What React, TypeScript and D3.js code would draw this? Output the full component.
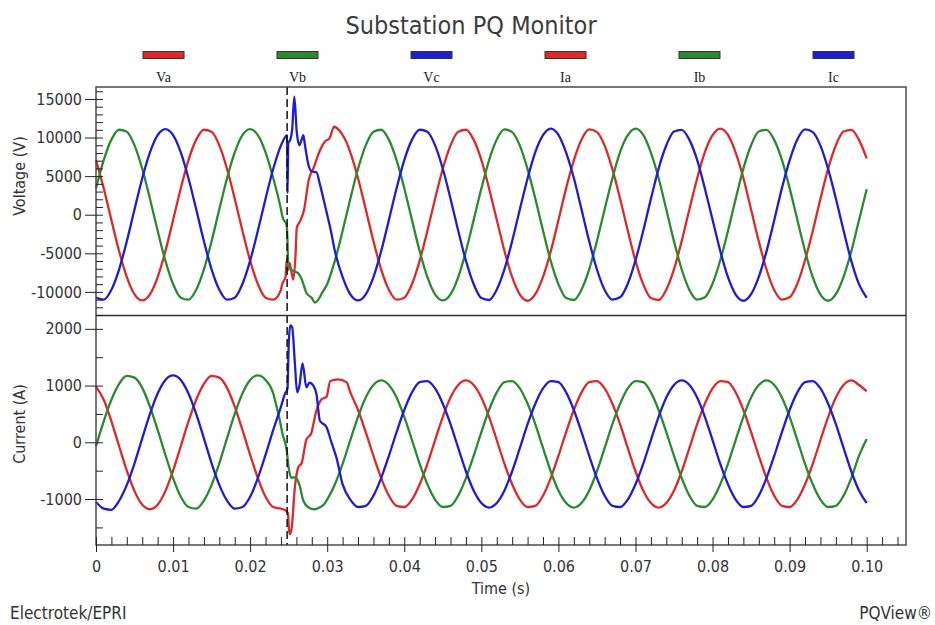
import { useEffect, useRef } from 'react';
import * as d3 from 'd3';

// one reading per millisecond, 0 .. 100 ms
const SAMPLE_MS = 1;

const vaSteady = [
  7080, 3430, -700, -4730, -8090, -10320, -11100, -10320, -8090, -4730,
  -700, 3430, 7080, 9730, 11010, 10750, 8980, 5950, 2080, -2080,
  -5950, -8980, -10750, -11010, -9730, -7080, -3430, 700, 4730, 8090,
  10320, 11100, 10320, 8090, 4730, 700, -3430, -7080, -9730, -11010,
  -10750, -8980, -5950, -2080, 2080, 5950, 8980, 10750, 11010, 9730,
  7100, 3400, -650, -4700, -8100, -10350, -11150, -10300, -8050, -4750,
  -720, 3450, 7050, 9750, 11050, 10700, 8950, 5900, 2100, -2050,
  -5980, -9000, -10800, -11050, -9700, -7050, -3400, 720, 4700, 8100,
  10300, 11150, 10350, 8050, 4750, 680, -3450, -7100, -9750, -11000,
  -10700, -8950, -5900, -2100, 2050, 5980, 9000, 10780, 11000, 9700,
  7300,
];

const vbSteady = [
  3430, 7080, 9730, 11010, 10750, 8980, 5950, 2080, -2080, -5950,
  -8980, -10750, -11010, -9730, -7080, -3430, 700, 4730, 8090, 10320,
  11100, 10320, 8090, 4730, 700, -3430, -7080, -9730, -11010, -10750,
  -8980, -5950, -2080, 2080, 5950, 8980, 10750, 11010, 9730, 7080,
  3430, -700, -4730, -8090, -10320, -11100, -10320, -8090, -4730, -700,
  3400, 7050, 9750, 11050, 10700, 8950, 5900, 2100, -2050, -5980,
  -9000, -10800, -11050, -9700, -7050, -3400, 720, 4700, 8100, 10300,
  11150, 10350, 8050, 4750, 680, -3450, -7100, -9750, -11000, -10700,
  -8950, -5900, -2100, 2050, 5980, 9000, 10780, 11000, 9700, 7100,
  3450, -650, -4700, -8100, -10350, -11150, -10300, -8050, -4750, -720,
  3300,
];

const vcSteady = [
  -10750, -11010, -9730, -7080, -3430, 700, 4730, 8090, 10320, 11100,
  10320, 8090, 4730, 700, -3430, -7080, -9730, -11010, -10750, -8980,
  -5950, -2080, 2080, 5950, 8980, 10750, 11010, 9730, 7080, 3430,
  -700, -4730, -8090, -10320, -11100, -10320, -8090, -4730, -700, 3430,
  7080, 9730, 11010, 10750, 8980, 5950, 2080, -2080, -5950, -8980,
  -10800, -11050, -9700, -7050, -3400, 720, 4700, 8100, 10300, 11150,
  10350, 8050, 4750, 680, -3450, -7100, -9750, -11000, -10700, -8950,
  -5900, -2100, 2050, 5980, 9000, 10780, 11000, 9700, 7100, 3400,
  -650, -4700, -8100, -10350, -11150, -10300, -8050, -4750, -720, 3450,
  7050, 9750, 11050, 10700, 8950, 5900, 2100, -2050, -5980, -9000,
  -10770,
];

const iaSteady = [
  980, 750, 370, -70, -500, -860, -1100, -1180, -1100, -860,
  -500, -70, 370, 750, 1030, 1170, 1140, 960, 630, 220,
  -220, -630, -960, -1140, -1170, -850, -510, -100, 320, 680,
  950, 1080, 1060, 880, 570, 180, -240, -630, -940, -1120,
  -1140, -1010, -740, -380, 40, 450, 790, 1010, 1090, 1010,
  790, 450, 40, -380, -740, -1010, -1140, -1120, -940, -630,
  -240, 180, 570, 880, 1060, 1080, 950, 680, 320, -100,
  -510, -850, -1070, -1150, -1070, -850, -510, -100, 320, 680,
  950, 1080, 1060, 880, 570, 180, -240, -630, -940, -1120,
  -1140, -1010, -740, -380, 40, 450, 790, 1010, 1090, 1010,
  900,
];

const ibSteady = [
  -70, 370, 750, 1030, 1170, 1140, 960, 630, 220, -220,
  -630, -960, -1140, -1170, -1030, -750, -370, 70, 500, 860,
  1100, 1180, 1100, 860, 500, -240, -630, -940, -1120, -1140,
  -1010, -740, -380, 40, 450, 790, 1010, 1090, 1010, 790,
  450, 40, -380, -740, -1010, -1140, -1120, -940, -630, -240,
  180, 570, 880, 1060, 1080, 950, 680, 320, -100, -510,
  -850, -1070, -1150, -1070, -850, -510, -100, 320, 680, 950,
  1080, 1060, 880, 570, 180, -240, -630, -940, -1120, -1140,
  -1010, -740, -380, 40, 450, 790, 1010, 1090, 1010, 790,
  450, 40, -380, -740, -1010, -1140, -1120, -940, -630, -240,
  60,
];

const icSteady = [
  -1050, -1170, -1190, -1030, -750, -370, 70, 500, 860, 1100,
  1180, 1100, 860, 500, 70, -370, -750, -1030, -1170, -1140,
  -960, -630, -220, 220, 630, 1010, 1090, 1010, 790, 450,
  40, -380, -740, -1010, -1140, -1120, -940, -630, -240, 180,
  570, 880, 1060, 1080, 950, 680, 320, -100, -510, -850,
  -1070, -1150, -1070, -850, -510, -100, 320, 680, 950, 1080,
  1060, 880, 570, 180, -240, -630, -940, -1120, -1140, -1010,
  -740, -380, 40, 450, 790, 1010, 1090, 1010, 790, 450,
  40, -380, -740, -1010, -1140, -1120, -940, -630, -240, 180,
  570, 880, 1060, 1080, 950, 680, 320, -100, -510, -850,
  -1070,
];

// finer readings around the fault (time in ms)
const vaFaultMs = [24.1, 24.6, 24.75, 24.9, 25.1, 25.4, 25.6, 25.9, 26.05, 26.5, 27.0, 27.6, 28.2, 29.0, 29.7, 30.3, 30.9, 31.5, 32.2];
const vaFault = [-9200, -8000, -5800, -7200, -6200, -7600, -8400, -5000, -1700, -800, 650, 4500, 6000, 8200, 9500, 9900, 11400, 11000, 10000];

const vbFaultMs = [24.2, 24.75, 24.85, 24.95, 25.2, 25.6, 26.25, 26.7, 27.3, 28.0, 28.4, 28.85, 29.3];
const vbFault = [-300, -1400, -3500, -6700, -7000, -7300, -7600, -8400, -10100, -10800, -11400, -11000, -10200];

const vcFaultMs = [24.5, 24.8, 24.85, 24.95, 25.2, 25.45, 25.73, 26.04, 26.38, 26.7, 26.9, 27.1, 27.55, 28.0, 28.6, 29.06, 29.9, 30.5];
const vcFault = [10000, 10300, 2800, 9300, 9700, 11000, 15300, 10800, 9000, 9800, 10300, 9100, 6500, 5600, 5500, 3900, 400, -2200];

const iaFaultMs = [24.6, 24.9, 25.05, 25.2, 25.4, 25.8, 26.25, 26.7, 27.3, 27.9, 28.6, 29.3, 29.9, 30.4, 31.4, 32.5];
const iaFault = [-1200, -1250, -1550, -1620, -1500, -800, -440, -360, 50, 150, 560, 760, 800, 1080, 1110, 1060];

const ibFaultMs = [23.3, 23.7, 24.2, 24.75, 25.0, 25.3, 25.8, 26.4, 26.9, 27.6, 28.3, 29.0, 29.6];
const ibFault = [700, 480, 150, -150, -450, -620, -620, -750, -1030, -1150, -1180, -1150, -1090];

const icFaultMs = [24.5, 24.85, 25.0, 25.2, 25.45, 25.8, 26.1, 26.4, 26.8, 27.3, 27.7, 28.2, 28.6, 29.05, 29.9, 30.5, 31.2];
const icFault = [850, 950, 1700, 2060, 2030, 1400, 880, 1000, 1390, 970, 1050, 1000, 850, 380, 270, 20, -270];

const seriesNames = ['Va', 'Vb', 'Vc', 'Ia', 'Ib', 'Ic'];
const seriesColors = ['#dc2a2a', '#2b8a30', '#1e1ecf', '#dc2a2a', '#2b8a30', '#1e1ecf'];

const voltTicks = [-10000, -5000, 0, 5000, 10000, 15000];
const currentTicks = [-1000, 0, 1000, 2000];
const timeTicks = [0, 0.01, 0.02, 0.03, 0.04, 0.05, 0.06, 0.07, 0.08, 0.09, 0.1];
const timeLabels = ['0', '0.01', '0.02', '0.03', '0.04', '0.05', '0.06', '0.07', '0.08', '0.09', '0.10'];
const TRIGGER_S = 0.0248;

const FONT = '"DejaVu Sans Condensed", "DejaVu Sans", sans-serif';

function mergeTrace(steady, faultMs, fault) {
  const lo = faultMs[0];
  const hi = faultMs[faultMs.length - 1];
  const points = [];
  steady.forEach((v, i) => {
    const ms = i * SAMPLE_MS;
    if (ms < lo || ms > hi) points.push([ms / 1000, v]);
  });
  faultMs.forEach((ms, i) => points.push([ms / 1000, fault[i]]));
  return points.sort((a, b) => a[0] - b[0]);
}

function styleText(sel, size = 16) {
  sel.attr('font-family', FONT).attr('font-size', size).attr('fill', '#333');
}

// plain hyphen for negatives, like the original software
const plain = (value) => String(value);

export default function App() {
  const ref = useRef(null);

  useEffect(() => {
    const svg = d3.select(ref.current);
    svg.selectAll('*').remove();

    const left = 96;
    const right = 906;
    const top = 87;
    const mid = 315.5;
    const bottom = 545;

    const x = d3.scaleLinear().domain([0, 0.1051]).range([left, right]);
    const yV = d3.scaleLinear().domain([-13060, 16550]).range([mid, top]);
    const yI = d3.scaleLinear().domain([-1810, 2235]).range([bottom, mid]);

    svg.append('rect').attr('width', 935).attr('height', 625).attr('fill', '#fff');

    svg
      .append('text')
      .attr('x', 471)
      .attr('y', 34)
      .attr('text-anchor', 'middle')
      .text('Substation PQ Monitor')
      .call((t) => styleText(t, 25))
      .attr('fill', '#3c3c3c');

    // legend
    const lx = d3.scalePoint().domain(seriesNames).range([163.5, 833.5]);
    const legend = svg
      .append('g')
      .selectAll('g')
      .data(seriesNames)
      .join('g')
      .attr('transform', (d) => `translate(${lx(d)},0)`);
    legend
      .append('rect')
      .attr('x', -20.5)
      .attr('y', 51.5)
      .attr('width', 41)
      .attr('height', 7)
      .attr('fill', (d, i) => seriesColors[i])
      .attr('stroke', '#333')
      .attr('stroke-width', 1);
    legend
      .append('text')
      .attr('y', 82)
      .attr('text-anchor', 'middle')
      .attr('font-family', '"Liberation Serif", serif')
      .attr('font-size', 14)
      .attr('fill', '#222')
      .text((d) => d);

    // traces
    const traces = [
      { pts: mergeTrace(vaSteady, vaFaultMs, vaFault), y: yV, color: seriesColors[0] },
      { pts: mergeTrace(vbSteady, vbFaultMs, vbFault), y: yV, color: seriesColors[1] },
      { pts: mergeTrace(vcSteady, vcFaultMs, vcFault), y: yV, color: seriesColors[2] },
      { pts: mergeTrace(iaSteady, iaFaultMs, iaFault), y: yI, color: seriesColors[3] },
      { pts: mergeTrace(ibSteady, ibFaultMs, ibFault), y: yI, color: seriesColors[4] },
      { pts: mergeTrace(icSteady, icFaultMs, icFault), y: yI, color: seriesColors[5] },
    ];
    traces.forEach((tr) => {
      const line = d3
        .line()
        .x((d) => x(d[0]))
        .y((d) => tr.y(d[1]))
        .curve(d3.curveMonotoneX);
      svg
        .append('path')
        .attr('d', line(tr.pts))
        .attr('fill', 'none')
        .attr('stroke', tr.color)
        .attr('stroke-width', 2.3)
        .attr('stroke-linejoin', 'round');
    });

    // trigger marker
    svg
      .append('line')
      .attr('x1', x(TRIGGER_S))
      .attr('x2', x(TRIGGER_S))
      .attr('y1', top)
      .attr('y2', bottom)
      .attr('stroke', '#111')
      .attr('stroke-width', 1.5)
      .attr('stroke-dasharray', '8 4');

    // frame
    svg
      .append('rect')
      .attr('x', left)
      .attr('y', top)
      .attr('width', right - left)
      .attr('height', bottom - top)
      .attr('fill', 'none')
      .attr('stroke', '#4a4a4a')
      .attr('stroke-width', 1.5);
    svg
      .append('line')
      .attr('x1', left)
      .attr('x2', right)
      .attr('y1', mid)
      .attr('y2', mid)
      .attr('stroke', '#333')
      .attr('stroke-width', 1.5);

    const tidy = (axis) => {
      axis.selectAll('.domain').remove();
      axis.selectAll('line').attr('stroke', '#222');
      axis.selectAll('text').call((t) => styleText(t, 16));
    };

    // voltage axis
    svg
      .append('g')
      .attr('transform', `translate(${left},0)`)
      .call(d3.axisLeft(yV).tickValues(voltTicks).tickSize(11).tickPadding(3).tickFormat(plain))
      .call(tidy);
    svg
      .append('g')
      .attr('transform', `translate(${left},0)`)
      .call(d3.axisRight(yV).tickValues(d3.range(-13000, 16001, 1000)).tickSize(7).tickFormat(() => ''))
      .call(tidy);

    // current axis
    svg
      .append('g')
      .attr('transform', `translate(${left},0)`)
      .call(d3.axisLeft(yI).tickValues(currentTicks).tickSize(11).tickPadding(3).tickFormat(plain))
      .call(tidy);
    svg
      .append('g')
      .attr('transform', `translate(${left},0)`)
      .call(d3.axisRight(yI).tickValues(d3.range(-1500, 2001, 500)).tickSize(7).tickFormat(() => ''))
      .call(tidy);

    // time axis
    svg
      .append('g')
      .attr('transform', `translate(0,${bottom})`)
      .call(d3.axisBottom(x).tickValues(timeTicks).tickSize(7).tickPadding(9).tickFormat((d, i) => timeLabels[i]))
      .call(tidy);
    svg
      .append('g')
      .attr('transform', `translate(0,${bottom})`)
      .call(d3.axisTop(x).tickValues(d3.range(0, 0.1051, 0.002)).tickSize(8).tickFormat(() => ''))
      .call(tidy);

    // axis titles
    svg
      .append('text')
      .attr('transform', 'translate(19,176) rotate(-90)')
      .attr('text-anchor', 'middle')
      .attr('dominant-baseline', 'central')
      .text('Voltage (V)')
      .call((t) => styleText(t, 16));
    svg
      .append('text')
      .attr('transform', 'translate(19,424) rotate(-90)')
      .attr('text-anchor', 'middle')
      .attr('dominant-baseline', 'central')
      .text('Current (A)')
      .call((t) => styleText(t, 16));
    svg
      .append('text')
      .attr('x', (left + right) / 2)
      .attr('y', 594)
      .attr('text-anchor', 'middle')
      .text('Time (s)')
      .call((t) => styleText(t, 16));

    // footer
    svg
      .append('text')
      .attr('x', 10)
      .attr('y', 619)
      .text('Electrotek/EPRI')
      .call((t) => styleText(t, 17));
    svg
      .append('text')
      .attr('x', 932)
      .attr('y', 619)
      .attr('text-anchor', 'end')
      .text('PQView®')
      .call((t) => styleText(t, 17));
  }, []);

  return (
    <svg
      ref={ref}
      width={935}
      height={625}
      style={{ position: 'absolute', left: 0, top: 0, display: 'block' }}
      role="img"
      aria-label="Substation PQ Monitor"
    />
  );
}
